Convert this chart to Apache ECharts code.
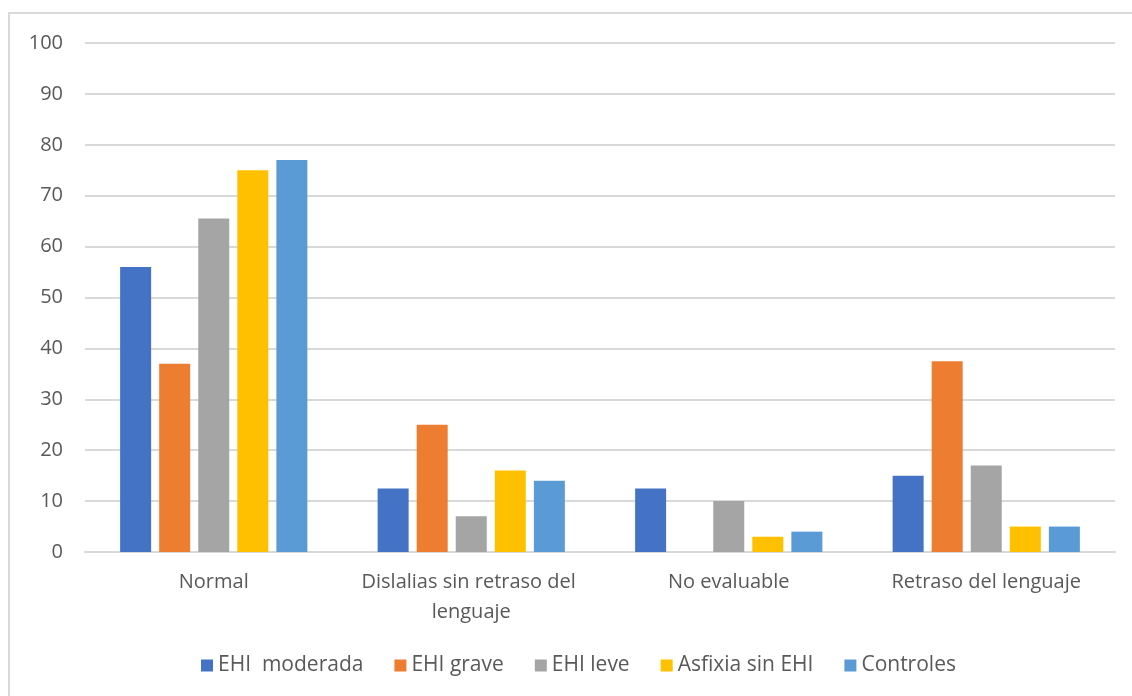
<!DOCTYPE html>
<html>
<head>
<meta charset="utf-8">
<script src="https://cdn.jsdelivr.net/npm/echarts@6/dist/echarts.min.js"></script>
<style>
  html, body { margin: 0; padding: 0; background: #ffffff; }
  #chart { width: 1132px; height: 696px; }
</style>
</head>
<body>
<div id="chart"></div>
<script>
// Categories and series values (%)
const categories = ['Normal', 'Dislalias sin retraso del lenguaje', 'No evaluable', 'Retraso del lenguaje'];
const seriesNames = ['EHI  moderada', 'EHI grave', 'EHI leve', 'Asfixia sin EHI', 'Controles'];
const ehiModerada = [56, 12.5, 12.5, 15];
const ehiGrave = [37, 25, null, 37.5];
const ehiLeve = [65.5, 7, 10, 17];
const asfixiaSinEhi = [75, 16, 3, 5];
const controles = [77, 14, 4, 5];
const yTicks = [0, 10, 20, 30, 40, 50, 60, 70, 80, 90, 100];

const values = [ehiModerada, ehiGrave, ehiLeve, asfixiaSinEhi, controles];
const colors = ['#4472c4', '#ed7d31', '#a5a5a5', '#ffc000', '#5b9bd5'];
const fontFamily = '"Open Sans", Lato, sans-serif';
const textColor = '#595959';

const chart = echarts.init(document.getElementById('chart'), null, { renderer: 'canvas' });

chart.setOption({
  animation: false,
  backgroundColor: '#ffffff',
  color: colors,
  textStyle: { fontFamily: fontFamily },
  graphic: [{
    type: 'rect',
    shape: { x: 9, y: 13, width: 1200, height: 800 },
    style: { fill: 'none', stroke: '#d9d9d9', lineWidth: 2 },
    silent: true
  }],
  grid: { left: 85, right: 17, top: 43, bottom: 144, containLabel: false },
  legend: {
    data: seriesNames,
    top: 650,
    left: 196,
    icon: 'rect',
    itemWidth: 12,
    itemHeight: 12,
    itemGap: 31,
    textStyle: { color: textColor, fontSize: 21, fontFamily: fontFamily }
  },
  xAxis: {
    type: 'category',
    data: categories,
    axisTick: { show: false },
    axisLine: { lineStyle: { color: '#d9d9d9', width: 2 } },
    axisLabel: {
      color: textColor,
      fontSize: 20,
      fontFamily: fontFamily,
      margin: 15,
      lineHeight: 30,
      width: 250,
      overflow: 'break',
      interval: 0
    }
  },
  yAxis: {
    type: 'value',
    min: yTicks[0],
    max: yTicks[yTicks.length - 1],
    interval: 10,
    axisLine: { show: false },
    axisTick: { show: false },
    splitLine: { lineStyle: { color: '#d9d9d9', width: 2 } },
    axisLabel: { color: textColor, fontSize: 20, fontFamily: fontFamily, margin: 22 }
  },
  series: seriesNames.map((name, i) => ({
    name: name,
    type: 'bar',
    data: values[i],
    barWidth: 31,
    barGap: '26%',
    itemStyle: { color: colors[i] }
  }))
});
</script>
</body>
</html>
